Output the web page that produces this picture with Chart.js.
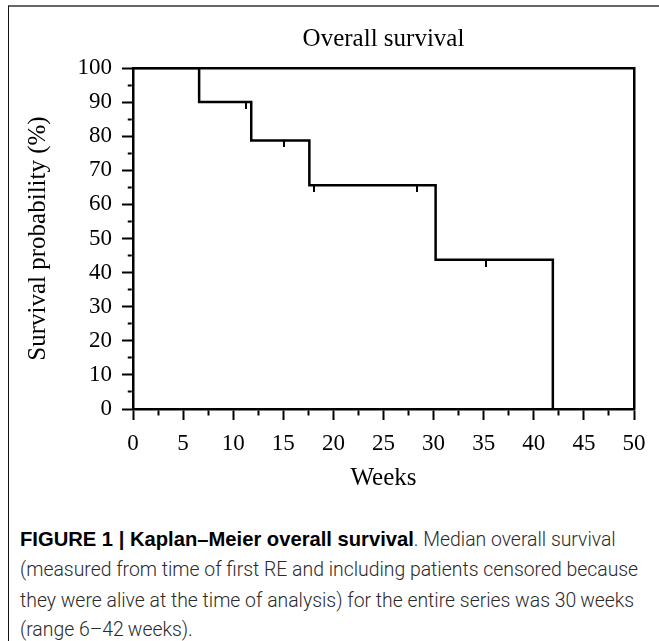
<!DOCTYPE html>
<html>
<head>
<meta charset="utf-8">
<script src="https://cdn.jsdelivr.net/npm/chart.js@4"></script>
<style>
  body { margin: 0; background: #fff; width: 659px; height: 641px; overflow: hidden; position: relative; }
  #frame { position: absolute; left: 8px; top: 5px; width: 700px; height: 700px;
           border-left: 1.5px solid #111; border-top: 2px solid #666; }
  #chart-box { position: absolute; left: 0; top: 0; width: 659px; height: 500px; }
  .cap { position: absolute; left: 20px; white-space: nowrap; color: #2a2a2a;
         font-family: Roboto, "Liberation Sans", sans-serif; font-weight: 300; font-size: 19.4px; }
  .cap b { color: #000; font-weight: 700; font-family: "Liberation Sans", Arial, sans-serif; font-size: 20.2px; }
</style>
</head>
<body>
<div id="frame"></div>
<div id="chart-box"><canvas id="km" width="659" height="500"></canvas></div>
<div class="cap" style="top:528px"><b>FIGURE 1 | Kaplan–Meier overall survival</b>. Median overall survival</div>
<div class="cap" style="top:558px">(measured from time of first RE and including patients censored because</div>
<div class="cap" style="top:589px">they were alive at the time of analysis) for the entire series was 30&#8201;weeks</div>
<div class="cap" style="top:618px">(range 6–42&#8201;weeks).</div>
<script>
// step curve (weeks, survival %)
const eventWeeks = [0, 6.6, 11.8, 17.6, 30.2, 41.9];
const survival = [100, 90, 78.75, 65.63, 43.75, 0];
// censored patients
const censorWeeks = [11.3, 15.1, 18.1, 28.3, 35.2];
const censorSurvival = [90, 78.75, 65.63, 65.63, 43.75];
// axis ticks
const xTicks = [0, 5, 10, 15, 20, 25, 30, 35, 40, 45, 50];
const yTicks = [0, 10, 20, 30, 40, 50, 60, 70, 80, 90, 100];

const serif = "'Liberation Serif', 'Times New Roman', serif";

// short vertical tick that hangs below the curve
const censorMark = document.createElement("canvas");
censorMark.width = 2;
censorMark.height = 14;
const cm = censorMark.getContext("2d");
cm.fillStyle = "#000";
cm.fillRect(0, 7, 2, 7);

const isMinor = (list, v) => !list.includes(v);

new Chart(document.getElementById("km"), {
    type: "line",
    data: {
        datasets: [{
            data: eventWeeks.map((w, i) => ({ x: w, y: survival[i] })),
            borderColor: "#000",
            borderWidth: 2.5,
            stepped: true,
            pointRadius: 0,
            fill: false
        }, {
            type: "scatter",
            data: censorWeeks.map((w, i) => ({ x: w, y: censorSurvival[i] })),
            pointStyle: censorMark,
            pointRadius: 3
        }]
    },
    options: {
        responsive: false,
        animation: false,
        layout: { padding: { left: 20, top: 8, right: 0, bottom: 6 } },
        plugins: { legend: { display: false }, tooltip: { enabled: false } },
        scales: {
            x: {
                type: "linear", position: "bottom", min: 0, max: 50,
                ticks: {
                    stepSize: 2.5, autoSkip: false, maxRotation: 0, padding: 10,
                    color: "#000", font: { family: serif, size: 23 },
                    callback: v => xTicks.includes(v) ? v : ""
                },
                grid: {
                    drawOnChartArea: false, tickLength: 11, tickWidth: 2, tickColor: "#000",
                    tickBorderDash: c => isMinor(xTicks, c.tick.value) ? [5, 20] : []
                },
                border: { color: "#000", width: 2.5 },
                title: { display: true, text: "Weeks", color: "#000",
                         font: { family: serif, size: 25 }, padding: { top: 0, bottom: 1 } },
                afterFit: s => { s.height = 85; }
            },
            xTop: {
                type: "linear", position: "top", min: 0, max: 50,
                ticks: { display: false },
                grid: { display: false, drawTicks: false },
                border: { color: "#000", width: 2.5 },
                title: { display: true, text: "Overall survival", color: "#000",
                         font: { family: serif, size: 25 }, padding: { top: 16, bottom: 0 } },
                afterFit: s => { s.height = 60; }
            },
            y: {
                type: "linear", position: "left", min: 0, max: 100,
                ticks: {
                    stepSize: 5, autoSkip: false, padding: 10,
                    color: "#000", font: { family: serif, size: 23 },
                    callback: v => yTicks.includes(v) ? v : ""
                },
                grid: {
                    drawOnChartArea: false, tickLength: 11, tickWidth: 2, tickColor: "#000",
                    tickBorderDash: c => isMinor(yTicks, c.tick.value) ? [4, 5.75] : [],
                    tickBorderDashOffset: c => isMinor(yTicks, c.tick.value) ? 4 : 0
                },
                border: { color: "#000", width: 2.5 },
                title: { display: true, text: "Survival probability (%)", color: "#000",
                         font: { family: serif, size: 25 }, padding: { top: 3, bottom: 0 } },
                afterFit: s => { s.width = 113; }
            },
            yRight: {
                type: "linear", position: "right", min: 0, max: 100,
                ticks: { display: false },
                grid: { display: false, drawTicks: false },
                border: { color: "#000", width: 2.5 },
                afterFit: s => { s.width = 25; }
            }
        }
    }
});
</script>
</body>
</html>
